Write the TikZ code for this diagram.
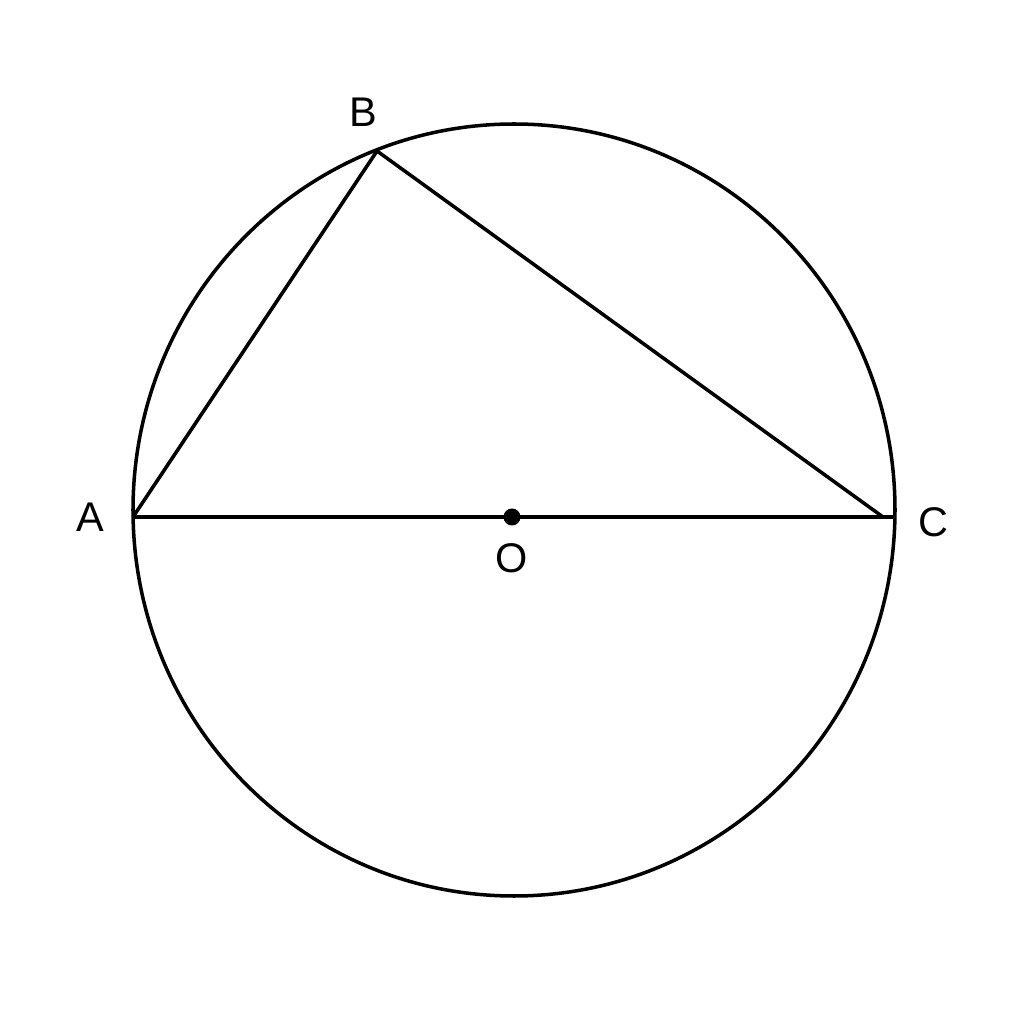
\documentclass[tikz,border=0pt]{standalone}
\usepackage{fontspec}
\setmainfont{Liberation Sans}
\usepackage{tikz}
\usetikzlibrary{calc}

\begin{document}
\begin{tikzpicture}[line width=1pt,
		lbl/.style={inner sep=0pt,font=\fontsize{11.8}{14}\selectfont}]
		\useasboundingbox (0,0) rectangle (10.24,10.24);
		% points on the circle
		\coordinate (O) at (5.12,5.07);
		\coordinate (A) at (1.33,5.07);
		\coordinate (B) at (3.77,8.73);
		\coordinate (C) at (8.83,5.07);
		\coordinate (D) at (8.95,5.07);
		
		\draw (5.14,5.14) ellipse [x radius=3.81,y radius=3.86];
		\draw (A) -- (D);
		\draw (A) -- (B) -- (C);
		\fill (O) circle (0.085);
		
		% labels
		\node[lbl] (la) at (0.90,5.07) {A};
		\node[lbl] (lb) at (3.63,9.12) {B};
		\node[lbl] (lc) at (9.33,5.02) {C};
		\node[lbl] (lo) at (5.12,4.66) {O};
	\end{tikzpicture}
\end{document}
